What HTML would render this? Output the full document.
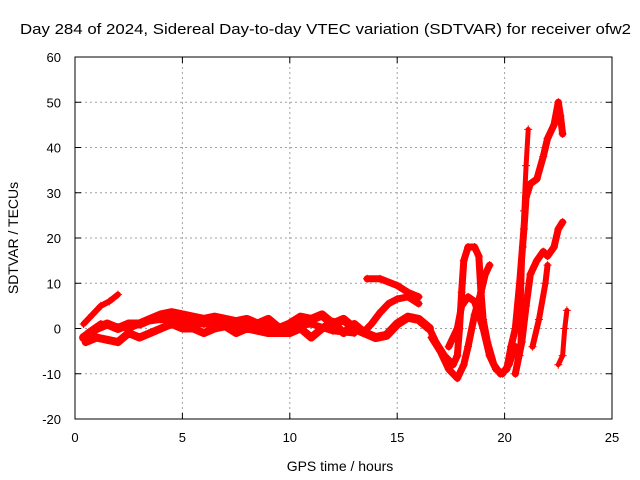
<!DOCTYPE html>
<html><head><meta charset="utf-8"><style>
body{margin:0;background:#fff}
svg{display:block;font-family:"Liberation Sans",sans-serif}
</style></head><body>
<svg id="c" width="640" height="480" viewBox="0 0 640 480">
<text x="20" y="34" font-size="15" textLength="611" lengthAdjust="spacingAndGlyphs">Day 284 of 2024, Sidereal Day-to-day VTEC variation (SDTVAR) for receiver ofw2</text>
<text x="340" y="471" font-size="14" text-anchor="middle">GPS time / hours</text>
<text x="18" y="238" font-size="14" text-anchor="middle" transform="rotate(-90 18 238)">SDTVAR / TECUs</text>
<g id="grid"></g><g id="data"></g>
<rect x="75" y="57" width="537" height="362" fill="none" stroke="#000" stroke-width="1"/>
</svg>
<script>
const xTicks=[0,5,10,15,20,25];
const yTicks=[-20,-10,0,10,20,30,40,50,60];
const trackA=[[0.4,1],[0.8,3],[1.2,5],[1.6,6],[2.0,7.5]];
const trackB1=[[0.4,-2],[1,0],[1.5,1],[2,0],[2.5,1],[3,1],[3.5,2],[4,3],[4.5,3.5],[5,3],[5.5,2.5],[6,2],[6.5,2.5],[7,2],[7.5,1.5],[8,2],[8.5,1],[9,2],[9.5,0],[10,1],[10.5,2.5],[11,2],[11.5,3],[12,1],[12.5,2],[13,0],[13.5,-1],[14,-2],[14.5,-1.5],[15,1],[15.5,2.5],[16,2],[16.5,0]];
const trackB2=[[0.5,-3],[1,-2],[1.5,-2.5],[2,-3],[2.5,-1],[3,-2],[3.5,-1],[4,0],[4.5,1],[5,0],[5.5,0],[6,-1],[6.5,0],[7,0.5],[7.5,-1],[8,0],[8.5,-0.5],[9,-1],[9.5,-1],[10,-1],[10.5,0],[11,-2],[11.5,0],[12,1.5],[12.5,-1],[13,1],[13.5,-1]];
const trackB5=[[0.6,-1],[1.2,1],[2.5,0],[3.2,1.5],[4,2],[5,1.5],[6,1],[7,1],[8,0.5],[9,0],[10,0.5],[11,1],[12,-0.5],[13,-1]];
const trackB3=[[13.4,-1],[13.8,1],[14.2,3.5],[14.6,5.5],[15.0,6.5],[15.5,7],[16,5.5]];
const trackB4=[[13.6,11],[14.2,11],[15,9.5],[15.5,8],[16,7]];
const trackC1=[[16.5,0],[16.8,-3],[17.2,-6],[17.6,-8],[17.8,-6],[17.9,0],[18.0,8],[18.1,15],[18.3,18],[18.6,18],[18.8,16],[18.9,8],[19.0,2],[19.2,-3],[19.5,-8],[19.8,-10],[20.1,-9],[20.3,-4],[20.5,0],[20.7,10],[20.9,22],[21.0,29],[21.2,32],[21.5,33],[21.8,38],[22.0,42],[22.3,45],[22.5,50],[22.6,47],[22.7,43]];
const trackC2=[[16.6,-2],[17.0,-5],[17.4,-9],[17.8,-11],[18.1,-8],[18.3,-4],[18.6,3],[18.9,8],[19.1,12],[19.3,14]];
const trackC4=[[17.4,-4],[17.8,0],[18.0,5],[18.3,7],[18.6,6],[19.0,0],[19.3,-6],[19.6,-9],[19.9,-10],[20.2,-8],[20.5,-4]];
const trackC5=[[20.5,-10],[20.8,-3],[21.0,5],[21.2,12],[21.5,15],[21.8,17],[22.0,16],[22.3,18],[22.5,22],[22.7,23.5]];
const trackC6=[[21.3,-4],[21.6,2],[21.9,10],[22.0,14]];
const trackC7=[[22.5,-8],[22.7,-6],[22.8,0],[22.9,4]];
const trackV=[[20.7,-6],[20.75,2],[20.8,10],[20.85,18],[20.9,26],[21.0,36],[21.1,44]];
const tracks=[trackA,trackB1,trackB2,trackB5,trackB3,trackB4,trackC1,trackC2,trackC4,trackC5,trackC6,trackC7,trackV];
const widths=[6,9,8,7,7,7,7,7,7,7,6,5,5];
const X=t=>75+t*537/25, Y=v=>57+(60-v)*362/80;
const NS='http://www.w3.org/2000/svg';
const g=document.getElementById('grid'), d=document.getElementById('data');
function mk(tag,at,par){const e=document.createElementNS(NS,tag);for(const k in at)e.setAttribute(k,at[k]);par.appendChild(e);return e;}
xTicks.forEach(t=>{
  if(t>0&&t<25){const l=mk('line',{x1:X(t),x2:X(t),y1:57,y2:419,stroke:'#a0a0a0','stroke-dasharray':'2,3'},g);
  
  }
  mk('line',{x1:X(t),x2:X(t),y1:419,y2:413,stroke:'#000'},g);
  mk('line',{x1:X(t),x2:X(t),y1:57,y2:63,stroke:'#000'},g);
  const tx=mk('text',{x:X(t),y:442,'font-size':13,'text-anchor':'middle'},g);tx.textContent=t;
  
  
});
yTicks.forEach(v=>{
  if(v>-20&&v<60){const l=mk('line',{x1:75,x2:612,y1:Y(v),y2:Y(v),stroke:'#a0a0a0','stroke-dasharray':'2,3'},g);
  
  }
  mk('line',{x1:75,x2:81,y1:Y(v),y2:Y(v),stroke:'#000'},g);
  mk('line',{x1:606,x2:612,y1:Y(v),y2:Y(v),stroke:'#000'},g);
  const tx=mk('text',{x:61,y:Y(v)+5,'font-size':13,'text-anchor':'end'},g);tx.textContent=v;
  
  
});
tracks.forEach((tr,i)=>{
  const p=mk('polyline',{points:tr.map(q=>X(q[0])+','+Y(q[1])).join(' '),fill:'none',stroke:'#f00','stroke-width':widths[i],'stroke-linejoin':'round','stroke-linecap':'round'},d);
  
  
  tr.forEach(q=>{
    const x=X(q[0]),y=Y(q[1]);
    const m=mk('path',{d:`M${x-4},${y}H${x+4}M${x},${y-4}V${y+4}`,stroke:'#f00','stroke-width':1},d);
    
    
  });
});
</script>
</body></html>
